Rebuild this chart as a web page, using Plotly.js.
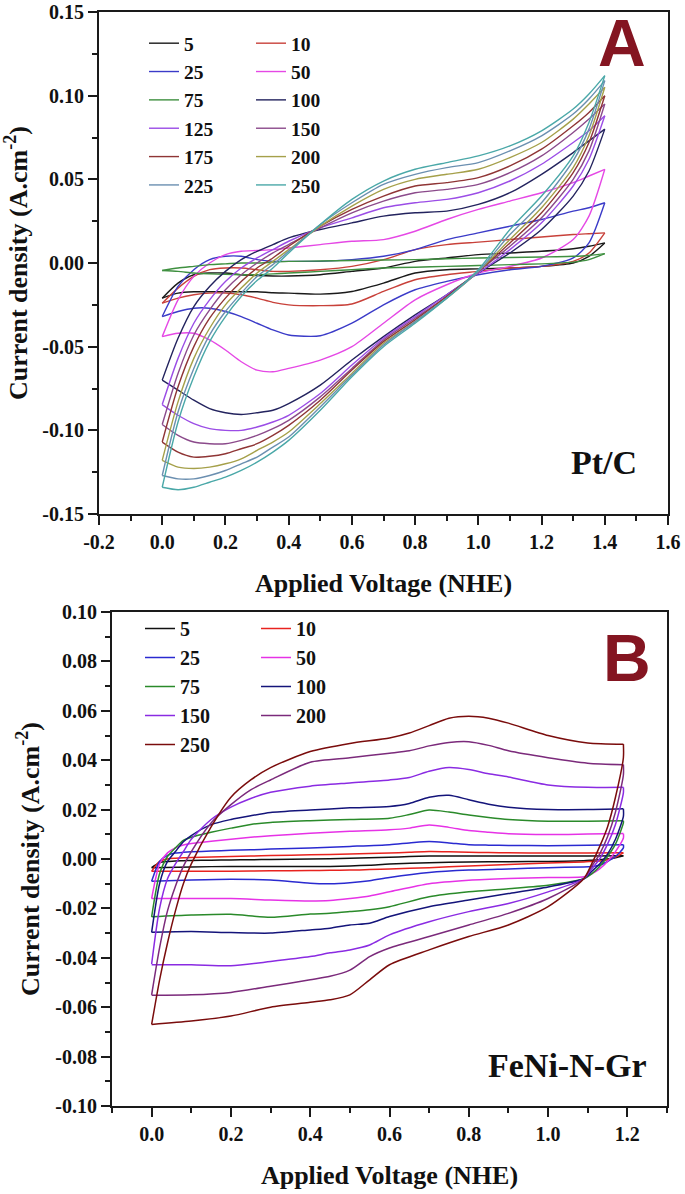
<!DOCTYPE html>
<html>
<head>
<meta charset="utf-8">
<script src="https://cdn.plot.ly/plotly-3.0.1.min.js"></script>
<style>html,body{margin:0;padding:0;background:#fff;}#chart{width:685px;height:1194px;}</style>
</head>
<body>
<div id="chart"></div>
<script>
// ---------- Panel A (Pt/C) ----------
const ratesA = [5, 10, 25, 50, 75, 100, 125, 150, 175, 200, 225, 250];
const voltA = [0, 0.05, 0.1, 0.15, 0.2, 0.25, 0.3, 0.35, 0.4, 0.5, 0.6, 0.7, 0.8, 0.9, 1.0, 1.1, 1.2, 1.3, 1.35, 1.4];
// anodic (forward) branch, along voltA
const A_up_5   = [-0.021, -0.012, -0.007, -0.006, -0.006, -0.007, -0.0075, -0.0078, -0.0078, -0.007, -0.005, -0.003, 0.001, 0.003, 0.005, 0.006, 0.007, 0.0085, 0.010, 0.012];
const A_up_10  = [-0.024, -0.015, -0.008, -0.004, -0.003, -0.003, -0.004, -0.005, -0.005, -0.004, -0.002, 0.002, 0.008, 0.011, 0.0125, 0.014, 0.0155, 0.017, 0.0175, 0.018];
const A_up_25  = [-0.032, -0.014, -0.004, 0.002, 0.004, 0.004, 0.002, 0.001, 0.001, 0.001, 0.002, 0.004, 0.008, 0.014, 0.018, 0.022, 0.026, 0.031, 0.033, 0.036];
const A_up_50  = [-0.044, -0.022, -0.008, 0.0, 0.005, 0.007, 0.0075, 0.008, 0.009, 0.011, 0.013, 0.014, 0.019, 0.026, 0.032, 0.037, 0.042, 0.048, 0.052, 0.056];
const A_up_75  = [-0.0045, -0.003, -0.002, -0.001, -0.0005, 0.0, 0.0, 0.0005, 0.001, 0.0012, 0.0015, 0.0018, 0.002, 0.0025, 0.003, 0.0033, 0.0036, 0.004, 0.0045, 0.0056];
const A_up_100 = [-0.070, -0.045, -0.026, -0.014, -0.005, 0.002, 0.007, 0.011, 0.015, 0.020, 0.024, 0.028, 0.030, 0.031, 0.035, 0.042, 0.053, 0.066, 0.073, 0.080];
const A_up_125 = [-0.0846, -0.057, -0.036, -0.022, -0.011, -0.003, 0.003, 0.008, 0.013, 0.021, 0.027, 0.033, 0.036, 0.038, 0.042, 0.049, 0.059, 0.072, 0.079, 0.088];
const A_up_150 = [-0.0965, -0.066, -0.043, -0.028, -0.016, -0.007, 0.0, 0.006, 0.011, 0.021, 0.030, 0.037, 0.042, 0.044, 0.047, 0.054, 0.064, 0.078, 0.086, 0.095];
const A_up_175 = [-0.107, -0.074, -0.050, -0.033, -0.021, -0.011, -0.003, 0.003, 0.010, 0.022, 0.032, 0.040, 0.046, 0.048, 0.051, 0.058, 0.068, 0.082, 0.090, 0.100];
const A_up_200 = [-0.118, -0.083, -0.057, -0.039, -0.025, -0.015, -0.006, 0.001, 0.008, 0.022, 0.034, 0.044, 0.050, 0.053, 0.056, 0.063, 0.072, 0.086, 0.095, 0.105];
const A_up_225 = [-0.127, -0.089, -0.063, -0.043, -0.029, -0.018, -0.008, -0.001, 0.007, 0.023, 0.036, 0.047, 0.053, 0.057, 0.060, 0.067, 0.076, 0.089, 0.098, 0.109];
const A_up_250 = [-0.134, -0.095, -0.068, -0.047, -0.032, -0.020, -0.0105, -0.003, 0.006, 0.023, 0.038, 0.049, 0.056, 0.060, 0.064, 0.070, 0.079, 0.092, 0.101, 0.112];
// cathodic (reverse) branch, also listed along voltA
const A_dn_5   = [-0.021, -0.018, -0.0172, -0.0172, -0.0172, -0.0172, -0.0172, -0.0178, -0.018, -0.0186, -0.017, -0.012, -0.006, -0.004, -0.0035, -0.003, -0.002, 0.0, 0.004, 0.012];
const A_dn_10  = [-0.024, -0.021, -0.019, -0.018, -0.018, -0.019, -0.021, -0.0235, -0.025, -0.0255, -0.0245, -0.017, -0.010, -0.007, -0.005, -0.003, -0.002, 0.001, 0.006, 0.018];
const A_dn_25  = [-0.032, -0.029, -0.027, -0.027, -0.029, -0.032, -0.036, -0.040, -0.043, -0.0435, -0.036, -0.025, -0.016, -0.011, -0.007, -0.004, -0.002, 0.003, 0.012, 0.036];
const A_dn_50  = [-0.044, -0.042, -0.042, -0.046, -0.052, -0.059, -0.064, -0.065, -0.063, -0.058, -0.050, -0.036, -0.022, -0.013, -0.006, -0.002, 0.003, 0.014, 0.028, 0.056];
const A_dn_75  = [-0.0045, -0.005, -0.006, -0.0065, -0.0068, -0.007, -0.007, -0.0065, -0.006, -0.005, -0.004, -0.003, -0.0025, -0.002, -0.0015, -0.001, -0.0005, 0.0005, 0.002, 0.0056];
const A_dn_100 = [-0.070, -0.076, -0.082, -0.087, -0.0895, -0.0905, -0.0895, -0.088, -0.084, -0.073, -0.058, -0.044, -0.031, -0.019, -0.006, 0.006, 0.020, 0.040, 0.055, 0.080];
const A_dn_125 = [-0.0846, -0.091, -0.096, -0.099, -0.100, -0.100, -0.098, -0.095, -0.091, -0.078, -0.061, -0.045, -0.032, -0.019, -0.006, 0.008, 0.024, 0.046, 0.062, 0.088];
const A_dn_150 = [-0.0965, -0.103, -0.107, -0.108, -0.108, -0.106, -0.103, -0.099, -0.094, -0.080, -0.063, -0.046, -0.033, -0.020, -0.005, 0.010, 0.027, 0.050, 0.067, 0.095];
const A_dn_175 = [-0.107, -0.113, -0.116, -0.1155, -0.114, -0.111, -0.108, -0.103, -0.097, -0.082, -0.064, -0.047, -0.034, -0.020, -0.005, 0.012, 0.030, 0.054, 0.072, 0.100];
const A_dn_200 = [-0.118, -0.122, -0.1228, -0.122, -0.120, -0.117, -0.112, -0.107, -0.101, -0.084, -0.066, -0.048, -0.035, -0.021, -0.005, 0.014, 0.033, 0.057, 0.076, 0.105];
const A_dn_225 = [-0.127, -0.129, -0.129, -0.127, -0.124, -0.120, -0.116, -0.110, -0.104, -0.086, -0.067, -0.049, -0.035, -0.021, -0.005, 0.017, 0.036, 0.061, 0.080, 0.109];
const A_dn_250 = [-0.134, -0.1355, -0.134, -0.131, -0.128, -0.124, -0.119, -0.113, -0.106, -0.088, -0.068, -0.050, -0.036, -0.021, -0.004, 0.020, 0.040, 0.064, 0.084, 0.112];
const colorsA = ['#1a1a1a', '#c8413a', '#3b3bc8', '#e548e5', '#3f9040', '#23235e', '#9b4de6', '#8b4a8b', '#8f3535', '#a5a04a', '#6b8fb0', '#4aa8a8'];
const tickValsA_x = [-0.2, 0, 0.2, 0.4, 0.6, 0.8, 1.0, 1.2, 1.4, 1.6];
const tickTextA_x = ['-0.2', '0.0', '0.2', '0.4', '0.6', '0.8', '1.0', '1.2', '1.4', '1.6'];
const tickValsA_y = [-0.15, -0.10, -0.05, 0, 0.05, 0.10, 0.15];
const tickTextA_y = ['-0.15', '-0.10', '-0.05', '0.00', '0.05', '0.10', '0.15'];

// ---------- Panel B (FeNi-N-Gr) ----------
const ratesB = [5, 10, 25, 50, 75, 100, 150, 200, 250];
const voltB_up = [0, 0.02, 0.04, 0.06, 0.08, 0.1, 0.15, 0.2, 0.25, 0.3, 0.4, 0.5, 0.6, 0.65, 0.7, 0.75, 0.8, 0.85, 0.9, 1.0, 1.1, 1.19];
const voltB_dn = [1.19, 1.17, 1.15, 1.13, 1.11, 1.09, 1.0, 0.9, 0.8, 0.7, 0.6, 0.55, 0.5, 0.45, 0.4, 0.3, 0.2, 0.1, 0];
const B_up_5   = [-0.0035, -0.0015, -0.001, -0.0008, -0.0007, -0.0006, -0.0005, -0.0004, -0.0003, -0.0002, 0.0, 0.0003, 0.0007, 0.001, 0.0012, 0.0012, 0.0012, 0.0012, 0.0012, 0.0012, 0.0012, 0.0013];
const B_up_10  = [-0.005, -0.001, 0.0, 0.0003, 0.0005, 0.0006, 0.0008, 0.001, 0.0012, 0.0014, 0.0017, 0.002, 0.0024, 0.0027, 0.003, 0.0029, 0.0027, 0.0026, 0.0025, 0.0024, 0.0024, 0.0025];
const B_up_25  = [-0.009, -0.001, 0.0015, 0.0024, 0.0027, 0.0029, 0.0032, 0.0035, 0.0037, 0.004, 0.0045, 0.0051, 0.0058, 0.0065, 0.0071, 0.0065, 0.0058, 0.0056, 0.0055, 0.0054, 0.0056, 0.0058];
const B_up_50  = [-0.016, -0.002, 0.0025, 0.0045, 0.0057, 0.0063, 0.0072, 0.008, 0.0088, 0.0094, 0.0104, 0.0112, 0.0118, 0.0125, 0.0138, 0.0128, 0.0115, 0.0108, 0.0102, 0.0099, 0.0101, 0.0103];
const B_up_75  = [-0.0234, -0.006, 0.001, 0.0045, 0.0075, 0.0088, 0.0108, 0.0125, 0.014, 0.0148, 0.0155, 0.016, 0.0165, 0.018, 0.0198, 0.019, 0.0178, 0.0168, 0.016, 0.0153, 0.0153, 0.0155];
const B_up_100 = [-0.0297, -0.010, -0.001, 0.003, 0.007, 0.0095, 0.0139, 0.016, 0.0175, 0.0188, 0.0198, 0.0207, 0.0213, 0.0225, 0.025, 0.0258, 0.024, 0.0222, 0.021, 0.020, 0.020, 0.0203];
const B_up_150 = [-0.0425, -0.020, -0.008, -0.002, 0.003, 0.008, 0.016, 0.021, 0.0245, 0.027, 0.0295, 0.0308, 0.032, 0.033, 0.0355, 0.037, 0.0362, 0.0345, 0.0332, 0.030, 0.029, 0.029];
const B_up_200 = [-0.055, -0.036, -0.021, -0.011, -0.003, 0.003, 0.0146, 0.022, 0.028, 0.032, 0.0392, 0.041, 0.0428, 0.0438, 0.0458, 0.0472, 0.0475, 0.046, 0.0438, 0.041, 0.0388, 0.0382];
const B_up_250 = [-0.067, -0.049, -0.034, -0.021, -0.010, -0.002, 0.013, 0.025, 0.032, 0.037, 0.0435, 0.0468, 0.049, 0.051, 0.054, 0.057, 0.0578, 0.057, 0.055, 0.050, 0.047, 0.0465];
const B_dn_5   = [0.0013, 0.0005, 0.0, -0.0003, -0.0005, -0.0007, -0.001, -0.0011, -0.0012, -0.0015, -0.002, -0.0025, -0.0028, -0.003, -0.003, -0.003, -0.003, -0.0032, -0.0035];
const B_dn_10  = [0.0025, 0.0008, -0.0003, -0.0008, -0.001, -0.0012, -0.0016, -0.0022, -0.0028, -0.0035, -0.004, -0.0043, -0.0045, -0.0046, -0.0047, -0.0048, -0.005, -0.005, -0.005];
const B_dn_25  = [0.0045, 0.001, -0.001, -0.0025, -0.003, -0.0032, -0.0035, -0.004, -0.0045, -0.0055, -0.0075, -0.0088, -0.0096, -0.010, -0.0098, -0.0085, -0.0082, -0.0085, -0.009];
const B_dn_50  = [0.0085, 0.003, -0.001, -0.004, -0.006, -0.0072, -0.0075, -0.0079, -0.0086, -0.010, -0.0133, -0.015, -0.016, -0.0168, -0.017, -0.0166, -0.016, -0.016, -0.016];
const B_dn_75  = [0.0146, 0.006, 0.001, -0.003, -0.006, -0.008, -0.0106, -0.012, -0.0133, -0.0153, -0.0193, -0.0205, -0.0213, -0.022, -0.0223, -0.0236, -0.0224, -0.0227, -0.0234];
const B_dn_100 = [0.0173, 0.008, 0.002, -0.002, -0.005, -0.008, -0.0113, -0.014, -0.0166, -0.0193, -0.0233, -0.026, -0.0267, -0.028, -0.0287, -0.030, -0.0298, -0.0294, -0.0297];
const B_dn_150 = [0.0268, 0.014, 0.006, 0.0, -0.004, -0.008, -0.0133, -0.018, -0.0213, -0.0254, -0.0307, -0.0348, -0.0368, -0.038, -0.0395, -0.0415, -0.0432, -0.0428, -0.0428];
const B_dn_200 = [0.034, 0.019, 0.009, 0.002, -0.003, -0.008, -0.016, -0.022, -0.0267, -0.0314, -0.036, -0.0395, -0.045, -0.0475, -0.0489, -0.0515, -0.054, -0.055, -0.0552];
const B_dn_250 = [0.041, 0.025, 0.013, 0.005, -0.002, -0.008, -0.0193, -0.0267, -0.0314, -0.0368, -0.0428, -0.0489, -0.055, -0.057, -0.058, -0.060, -0.0636, -0.0656, -0.067];
const colorsB = ['#111111', '#e8231f', '#2a2ad0', '#e632e6', '#2a8a2a', '#14147a', '#8a2be2', '#7b2a7b', '#7a0c0c'];
const tickValsB_x = [0, 0.2, 0.4, 0.6, 0.8, 1.0, 1.2];
const tickTextB_x = ['0.0', '0.2', '0.4', '0.6', '0.8', '1.0', '1.2'];
const tickValsB_y = [-0.10, -0.08, -0.06, -0.04, -0.02, 0, 0.02, 0.04, 0.06, 0.08, 0.10];
const tickTextB_y = ['-0.10', '-0.08', '-0.06', '-0.04', '-0.02', '0.00', '0.02', '0.04', '0.06', '0.08', '0.10'];

// ---------- build traces ----------
const upA = [A_up_5, A_up_10, A_up_25, A_up_50, A_up_75, A_up_100, A_up_125, A_up_150, A_up_175, A_up_200, A_up_225, A_up_250];
const dnA = [A_dn_5, A_dn_10, A_dn_25, A_dn_50, A_dn_75, A_dn_100, A_dn_125, A_dn_150, A_dn_175, A_dn_200, A_dn_225, A_dn_250];
const upB = [B_up_5, B_up_10, B_up_25, B_up_50, B_up_75, B_up_100, B_up_150, B_up_200, B_up_250];
const dnB = [B_dn_5, B_dn_10, B_dn_25, B_dn_50, B_dn_75, B_dn_100, B_dn_150, B_dn_200, B_dn_250];

const traces = [];
const SM = 0.7;
ratesA.forEach((r, i) => {
  const leg = (i % 2 === 0) ? 'legend' : 'legend2';
  const base = {type: 'scatter', mode: 'lines', xaxis: 'x', yaxis: 'y', hoverinfo: 'skip',
    line: {color: colorsA[i], width: 1.4, shape: 'spline', smoothing: SM}, legend: leg, legendgroup: 'A' + r, name: String(r)};
  traces.push(Object.assign({}, base, {x: voltA, y: upA[i], showlegend: true}));
  traces.push(Object.assign({}, base, {x: voltA, y: dnA[i], showlegend: false}));
});
ratesB.forEach((r, i) => {
  const col1 = [5, 25, 75, 150, 250].indexOf(r) >= 0;
  const leg = col1 ? 'legend3' : 'legend4';
  const upY = upB[i];
  const base = {type: 'scatter', mode: 'lines', xaxis: 'x2', yaxis: 'y2', hoverinfo: 'skip',
    line: {color: colorsB[i], width: 1.5, shape: 'spline', smoothing: SM}, legend: leg, legendgroup: 'B' + r, name: String(r)};
  traces.push(Object.assign({}, base, {x: voltB_up, y: upY, showlegend: true}));
  traces.push(Object.assign({}, base, {x: [voltB_up[voltB_up.length - 1]].concat(voltB_dn),
    y: [upY[upY.length - 1]].concat(dnB[i]), showlegend: false}));
});

const W = 685, H = 1194;
const serif = 'Liberation Serif, Times New Roman, serif';
const tickFont = {family: serif, size: 20, weight: 'bold', color: '#111'};
const legFontA = {family: serif, size: 19.5, weight: 'bold', color: '#111'};
const legFontB = {family: serif, size: 20, weight: 'bold', color: '#111'};
const titleX = {family: serif, size: 26, weight: 'bold', color: '#111'};
const titleY = {family: serif, size: 26, weight: 'bold', color: '#111'};

function axisCommon() {
  return {
    showgrid: false, zeroline: false, showline: true, mirror: true,
    linecolor: '#1a1a1a', linewidth: 2,
    ticks: 'outside', ticklen: 9, tickwidth: 2, tickcolor: '#1a1a1a',
    tickfont: tickFont, tickmode: 'array'
  };
}
function minorTicks(d) {
  return {tickmode: 'linear', tick0: 0, dtick: d, ticks: 'outside', ticklen: 5, tickwidth: 2, tickcolor: '#1a1a1a'};
}
function legendAt(xpx, ypx, f) {
  return {
    x: xpx / W, y: 1 - ypx / H, xanchor: 'left', yanchor: 'top',
    bgcolor: 'rgba(0,0,0,0)', borderwidth: 0, font: f,
    tracegroupgap: 0, traceorder: 'normal', itemclick: false
  };
}

const layout = {
  width: W, height: H,
  margin: {l: 0, r: 0, t: 0, b: 0},
  paper_bgcolor: '#ffffff', plot_bgcolor: '#ffffff',
  showlegend: true,
  xaxis: Object.assign(axisCommon(), {
    domain: [99 / W, 668 / W], anchor: 'y',
    range: [-0.2, 1.6], tickvals: tickValsA_x, ticktext: tickTextA_x,
    minor: minorTicks(0.1),
    title: {text: 'Applied Voltage (NHE)', font: titleX, standoff: 22}
  }),
  yaxis: Object.assign(axisCommon(), {
    domain: [1 - 514 / H, 1 - 12 / H], anchor: 'x',
    range: [-0.15, 0.15], tickvals: tickValsA_y, ticktext: tickTextA_y,
    minor: minorTicks(0.025),
    title: {text: 'Current density (A.cm<sup>-2</sup>)', font: titleY, standoff: 8}
  }),
  xaxis2: Object.assign(axisCommon(), {
    domain: [112 / W, 667 / W], anchor: 'y2',
    range: [-0.1, 1.3], tickvals: tickValsB_x, ticktext: tickTextB_x,
    minor: minorTicks(0.1),
    title: {text: 'Applied Voltage (NHE)', font: titleX, standoff: 22}
  }),
  yaxis2: Object.assign(axisCommon(), {
    domain: [1 - 1106 / H, 1 - 612 / H], anchor: 'x2',
    range: [-0.1, 0.1], tickvals: tickValsB_y, ticktext: tickTextB_y,
    minor: minorTicks(0.01),
    title: {text: 'Current density (A.cm<sup>-2</sup>)', font: titleY, standoff: 8}
  }),
  legend: legendAt(144, 24, legFontA),
  legend2: legendAt(251, 24, legFontA),
  legend3: legendAt(140, 609, legFontB),
  legend4: legendAt(256, 609, legFontB),
  annotations: [
    {text: 'A', xref: 'paper', yref: 'paper', x: 622 / W, y: 1 - 43 / H, xanchor: 'center', yanchor: 'middle', showarrow: false,
     font: {family: 'Liberation Sans, Arial, sans-serif', size: 66, weight: 'bold', color: '#841521'}},
    {text: 'Pt/C', xref: 'paper', yref: 'paper', x: 604 / W, y: 1 - 463 / H, xanchor: 'center', yanchor: 'middle', showarrow: false,
     font: {family: serif, size: 34, weight: 'bold', color: '#111'}},
    {text: 'B', xref: 'paper', yref: 'paper', x: 627 / W, y: 1 - 658 / H, xanchor: 'center', yanchor: 'middle', showarrow: false,
     font: {family: 'Liberation Sans, Arial, sans-serif', size: 66, weight: 'bold', color: '#841521'}},
    {text: 'FeNi-N-Gr', xref: 'paper', yref: 'paper', x: 567 / W, y: 1 - 1065 / H, xanchor: 'center', yanchor: 'middle', showarrow: false,
     font: {family: serif, size: 34, weight: 'bold', color: '#111'}}
  ]
};

Plotly.newPlot('chart', traces, layout, {displayModeBar: false, staticPlot: true});
</script>
</body>
</html>
